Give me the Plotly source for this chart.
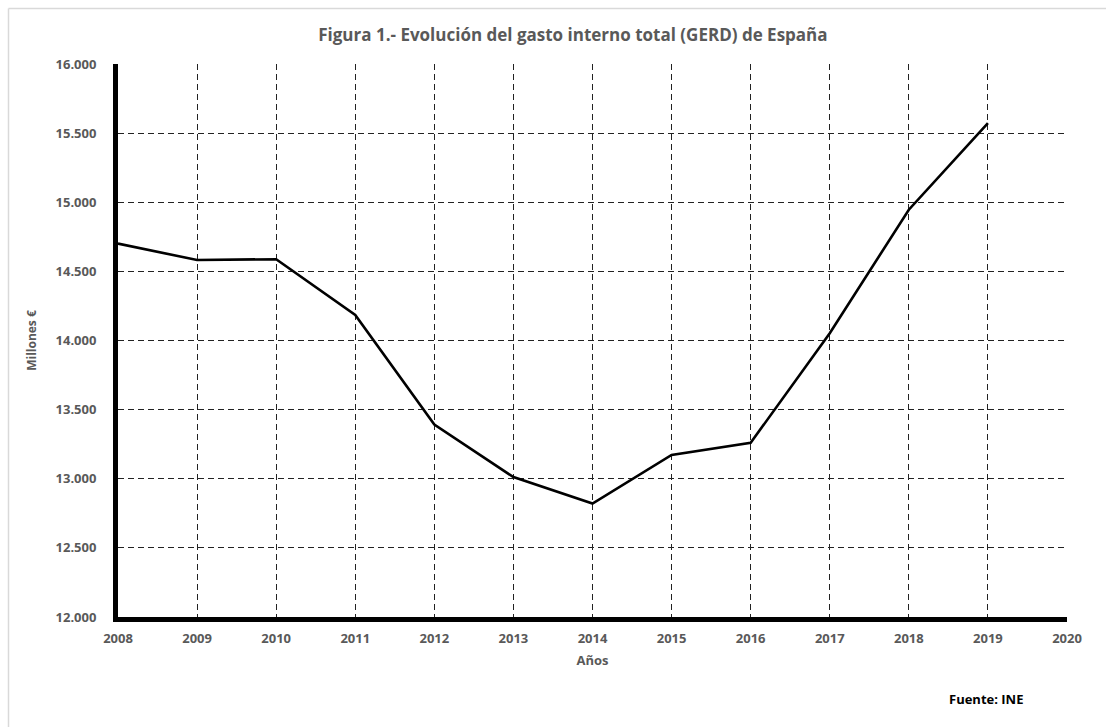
import plotly.graph_objects as go

years = [2008, 2009, 2010, 2011, 2012, 2013, 2014, 2015, 2016, 2017, 2018, 2019]
gerd = [14701, 14582, 14588, 14184, 13392, 13012, 12821, 13172, 13260, 14052, 14946, 15572]

x_ticks = list(range(2008, 2021))
y_ticks = list(range(12000, 16001, 500))

FONT = "Open Sans"
GRAY = "#595959"

fig = go.Figure()
fig.add_trace(go.Scatter(x=years, y=gerd, mode="lines",
                         line=dict(color="black", width=2.6),
                         showlegend=False, hoverinfo="skip"))

fig.update_layout(
    width=1106, height=727,
    margin=dict(l=118, r=39, t=64, b=110),
    paper_bgcolor="white", plot_bgcolor="white",
    separators=",.",
    title=dict(text="<b>Figura 1.- Evolución del gasto interno total (GERD) de España</b>",
               x=0.518, xanchor="center", y=0.952, yanchor="middle",
               font=dict(family=FONT, size=17, color=GRAY)),
    font=dict(family=FONT, size=13, color=GRAY),
)

fig.update_xaxes(
    range=[2008, 2020], tickvals=x_ticks, tickformat="d",
    showgrid=True, gridcolor="#222222", griddash="6px,4px", gridwidth=1.4,
    showline=True, linecolor="black", linewidth=5,
    zeroline=False, ticks="", ticklabelstandoff=5,
    tickfont=dict(family=FONT, size=13, color=GRAY, weight="bold"),
    title=dict(text="<b>Años</b>", standoff=12,
               font=dict(family=FONT, size=13, color=GRAY)),
)
fig.update_yaxes(
    range=[12000, 16000], tickvals=y_ticks, tickformat=",.0f",
    showgrid=True, gridcolor="#222222", griddash="6px,4px", gridwidth=1.4,
    showline=True, linecolor="black", linewidth=5,
    zeroline=False, ticks="", ticklabelstandoff=14,
    tickfont=dict(family=FONT, size=13, color=GRAY, weight="bold"),
    title=dict(text="<b>Millones €</b>", standoff=18,
               font=dict(family=FONT, size=12, color=GRAY)),
)

fig.add_annotation(text="<b>Fuente: INE</b>", xref="paper", yref="paper",
                   x=(986 - 118) / 949, y=(617 - 699) / 553,
                   xanchor="center", yanchor="middle", showarrow=False,
                   font=dict(family=FONT, size=13, color="black"))

# chart area border (light gray)
fig.add_shape(type="line", xref="paper", yref="paper",
              x0=(8.5 - 118) / 949, x1=(1110 - 118) / 949,
              y0=1 + (64 - 8.5) / 553, y1=1 + (64 - 8.5) / 553,
              line=dict(color="#d9d9d9", width=1.5))
fig.add_shape(type="line", xref="paper", yref="paper",
              x0=(8.5 - 118) / 949, x1=(8.5 - 118) / 949,
              y0=1 + (64 - 8.5) / 553, y1=(617 - 730) / 553,
              line=dict(color="#d9d9d9", width=1.5))

fig.write_html("out.html")
